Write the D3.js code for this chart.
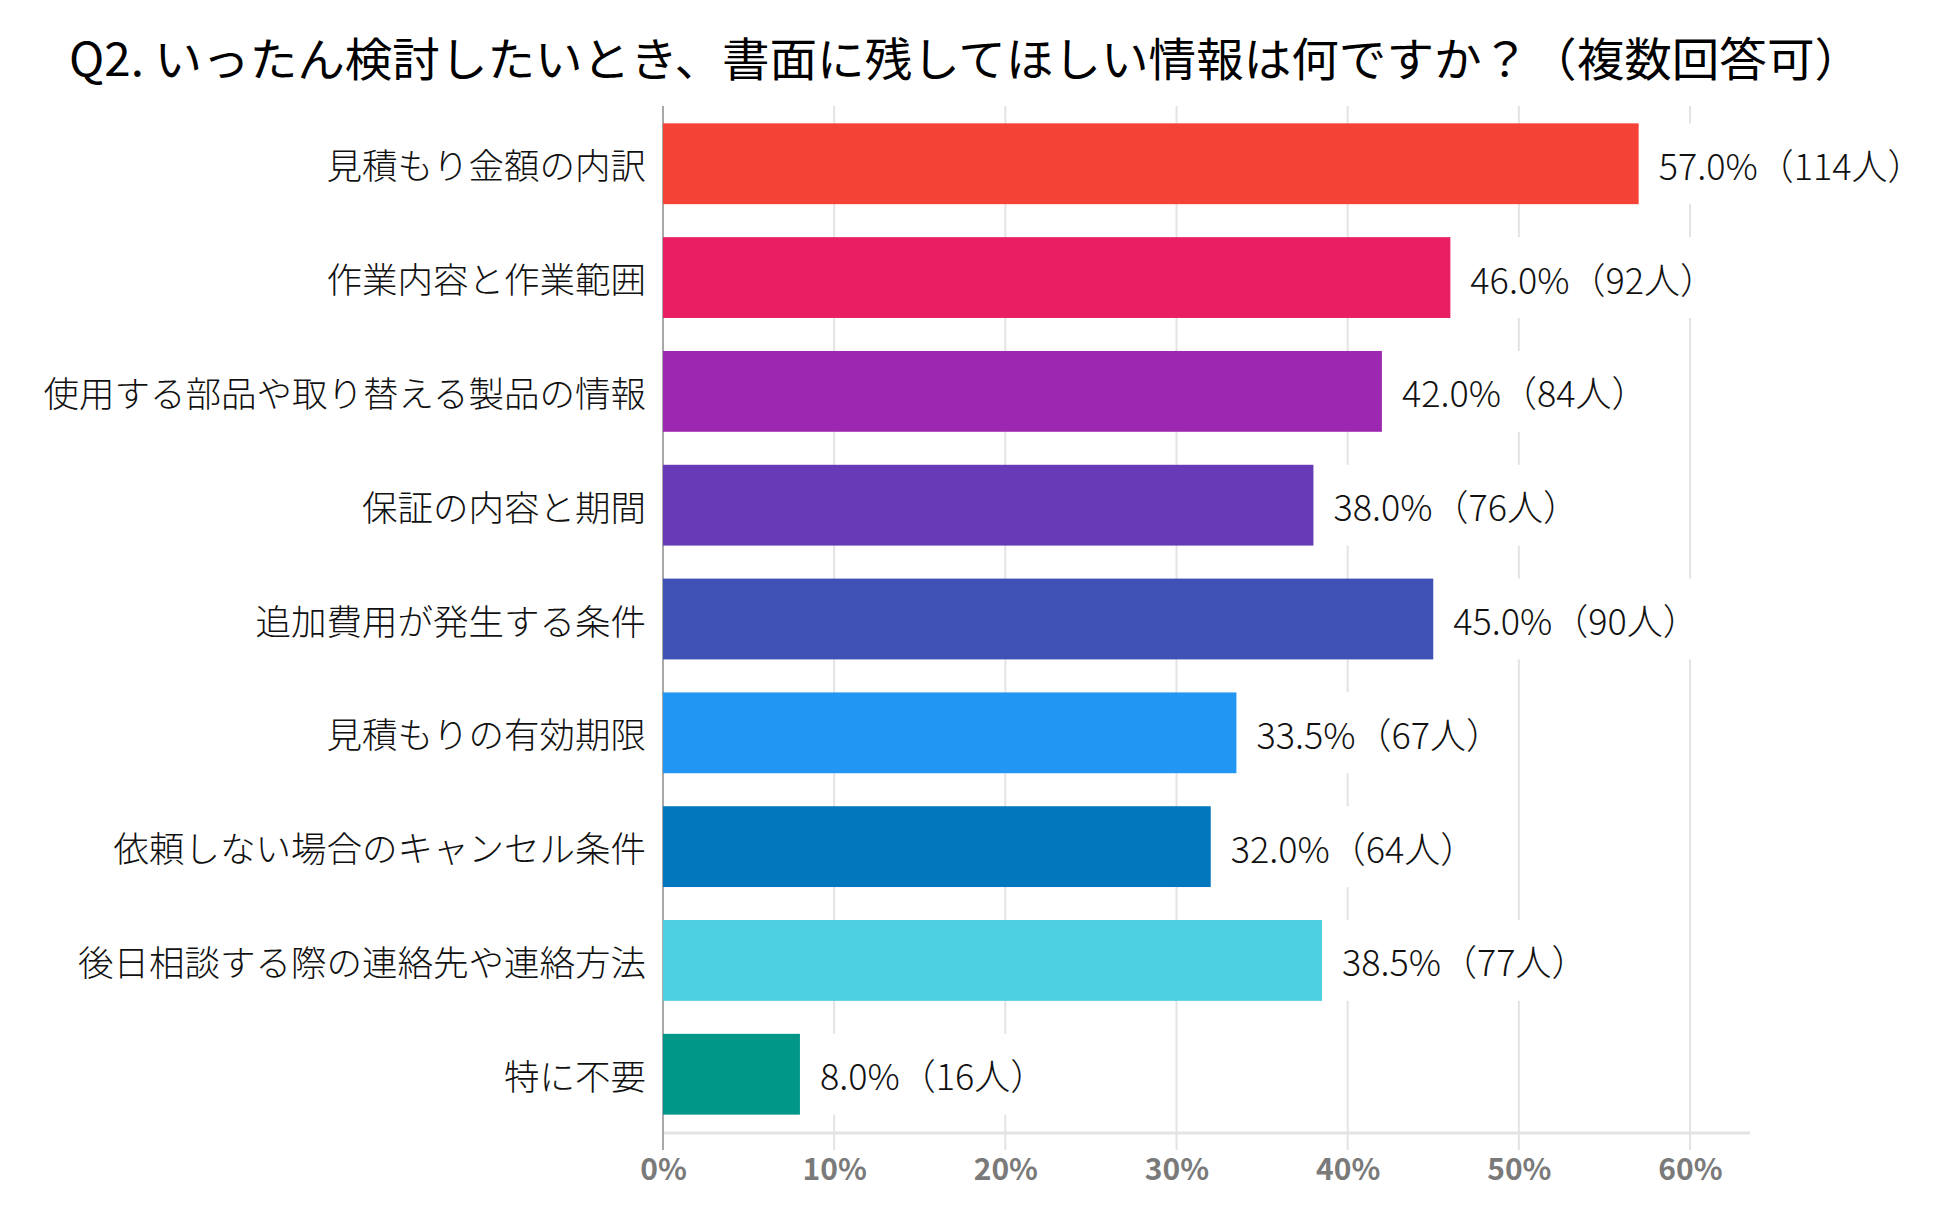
<!DOCTYPE html>
<html>
<head>
<meta charset="utf-8">
<script src="https://cdn.jsdelivr.net/npm/d3@7"></script>
<style>
  body { margin: 0; background: #fff; }
  text { font-family: "Noto Sans CJK JP", "Noto Sans", sans-serif; }
</style>
</head>
<body>
<div id="chart"></div>
<script>
var title = "Q2. いったん検討したいとき、書面に残してほしい情報は何ですか？（複数回答可）";

var categories = [
    "見積もり金額の内訳",
    "作業内容と作業範囲",
    "使用する部品や取り替える製品の情報",
    "保証の内容と期間",
    "追加費用が発生する条件",
    "見積もりの有効期限",
    "依頼しない場合のキャンセル条件",
    "後日相談する際の連絡先や連絡方法",
    "特に不要"
];
var percents = [57.0, 46.0, 42.0, 38.0, 45.0, 33.5, 32.0, 38.5, 8.0];
var counts = [114, 92, 84, 76, 90, 67, 64, 77, 16];
var tickValues = [0, 10, 20, 30, 40, 50, 60];

var palette = ["#F44336", "#E91E63", "#9C27B0", "#673AB7", "#3F51B5",
               "#2196F3", "#0277BD", "#4DD0E1", "#009688"];

var W = 1950, H = 1221;

var svg = d3.select("#chart")
    .append("svg")
    .attr("width", W)
    .attr("height", H);

var data = categories.map(function(c, i) {
    return { cat: c, pct: percents[i], n: counts[i], color: palette[i] };
});

var x = d3.scaleLinear()
    .domain([0, 60])
    .range([663, 1690]);

var y = d3.scaleBand()
    .domain(categories)
    .range([104, 1134])
    .paddingInner(0.29)
    .paddingOuter(0.17);

// title
svg.append("text")
    .attr("x", 69)
    .attr("y", 56)
    .attr("dominant-baseline", "central")
    .attr("font-size", "46px")
    .attr("textLength", 1793)
    .attr("lengthAdjust", "spacingAndGlyphs")
    .attr("fill", "#000")
    .text(title);

// gridlines
svg.append("g")
    .selectAll("line")
    .data(tickValues.slice(1))
    .enter()
    .append("line")
        .attr("x1", function(d){ return x(d); })
        .attr("x2", function(d){ return x(d); })
        .attr("y1", 106)
        .attr("y2", 1150)
        .attr("stroke", "#e3e3e3")
        .attr("stroke-width", 2);

// baseline (bottom axis line)
svg.append("line")
    .attr("x1", x(0))
    .attr("x2", 1750)
    .attr("y1", 1133)
    .attr("y2", 1133)
    .attr("stroke", "#e3e3e3")
    .attr("stroke-width", 3);

// zero line
svg.append("line")
    .attr("x1", x(0))
    .attr("x2", x(0))
    .attr("y1", 106)
    .attr("y2", 1150)
    .attr("stroke", "#a8a8a8")
    .attr("stroke-width", 2);

// x axis labels
var xAxisCall = d3.axisBottom(x)
    .tickValues(tickValues)
    .tickSize(0)
    .tickFormat(function(d){ return d + "%"; });

var xAxis = svg.append("g")
    .attr("class", "x axis")
    .attr("transform", "translate(0, 1150)")
    .call(xAxisCall);
xAxis.select(".domain").remove();
xAxis.selectAll("text")
    .attr("y", 9)
    .attr("font-family", "Roboto, 'Noto Sans', sans-serif")
    .attr("font-weight", "bold")
    .attr("font-size", "30px")
    .attr("fill", "#7a7a7a");

// bars
svg.append("g")
    .selectAll("rect")
    .data(data)
    .enter()
    .append("rect")
        .attr("x", x(0))
        .attr("y", function(d){ return y(d.cat); })
        .attr("width", function(d){ return x(d.pct) - x(0); })
        .attr("height", y.bandwidth())
        .attr("fill", function(d){ return d.color; });

// category labels
svg.append("g")
    .selectAll("text")
    .data(data)
    .enter()
    .append("text")
        .attr("x", 646)
        .attr("y", function(d){ return y(d.cat) + y.bandwidth() / 2; })
        .attr("dominant-baseline", "central")
        .attr("text-anchor", "end")
        .attr("font-size", "35.5px")
        .attr("font-weight", 300)
        .attr("fill", "#111")
        .text(function(d){ return d.cat; });

// value labels with white backing
var vals = svg.append("g")
    .selectAll("g")
    .data(data)
    .enter()
    .append("g");

vals.append("rect")
    .attr("class", "bg")
    .attr("fill", "#fff");

vals.append("text")
    .attr("x", function(d){ return x(d.pct) + 20; })
    .attr("y", function(d){ return y(d.cat) + y.bandwidth() / 2; })
    .attr("dominant-baseline", "central")
    .attr("font-size", "36px")
    .attr("font-weight", 300)
    .attr("fill", "#111")
    .text(function(d){ return d.pct.toFixed(1) + "%（" + d.n + "人）"; });

vals.each(function(d){
    var t = d3.select(this).select("text").node().getBBox();
    d3.select(this).select("rect.bg")
        .attr("x", t.x - 4)
        .attr("y", y(d.cat))
        .attr("width", t.width + 8)
        .attr("height", y.bandwidth());
});
</script>
</body>
</html>
